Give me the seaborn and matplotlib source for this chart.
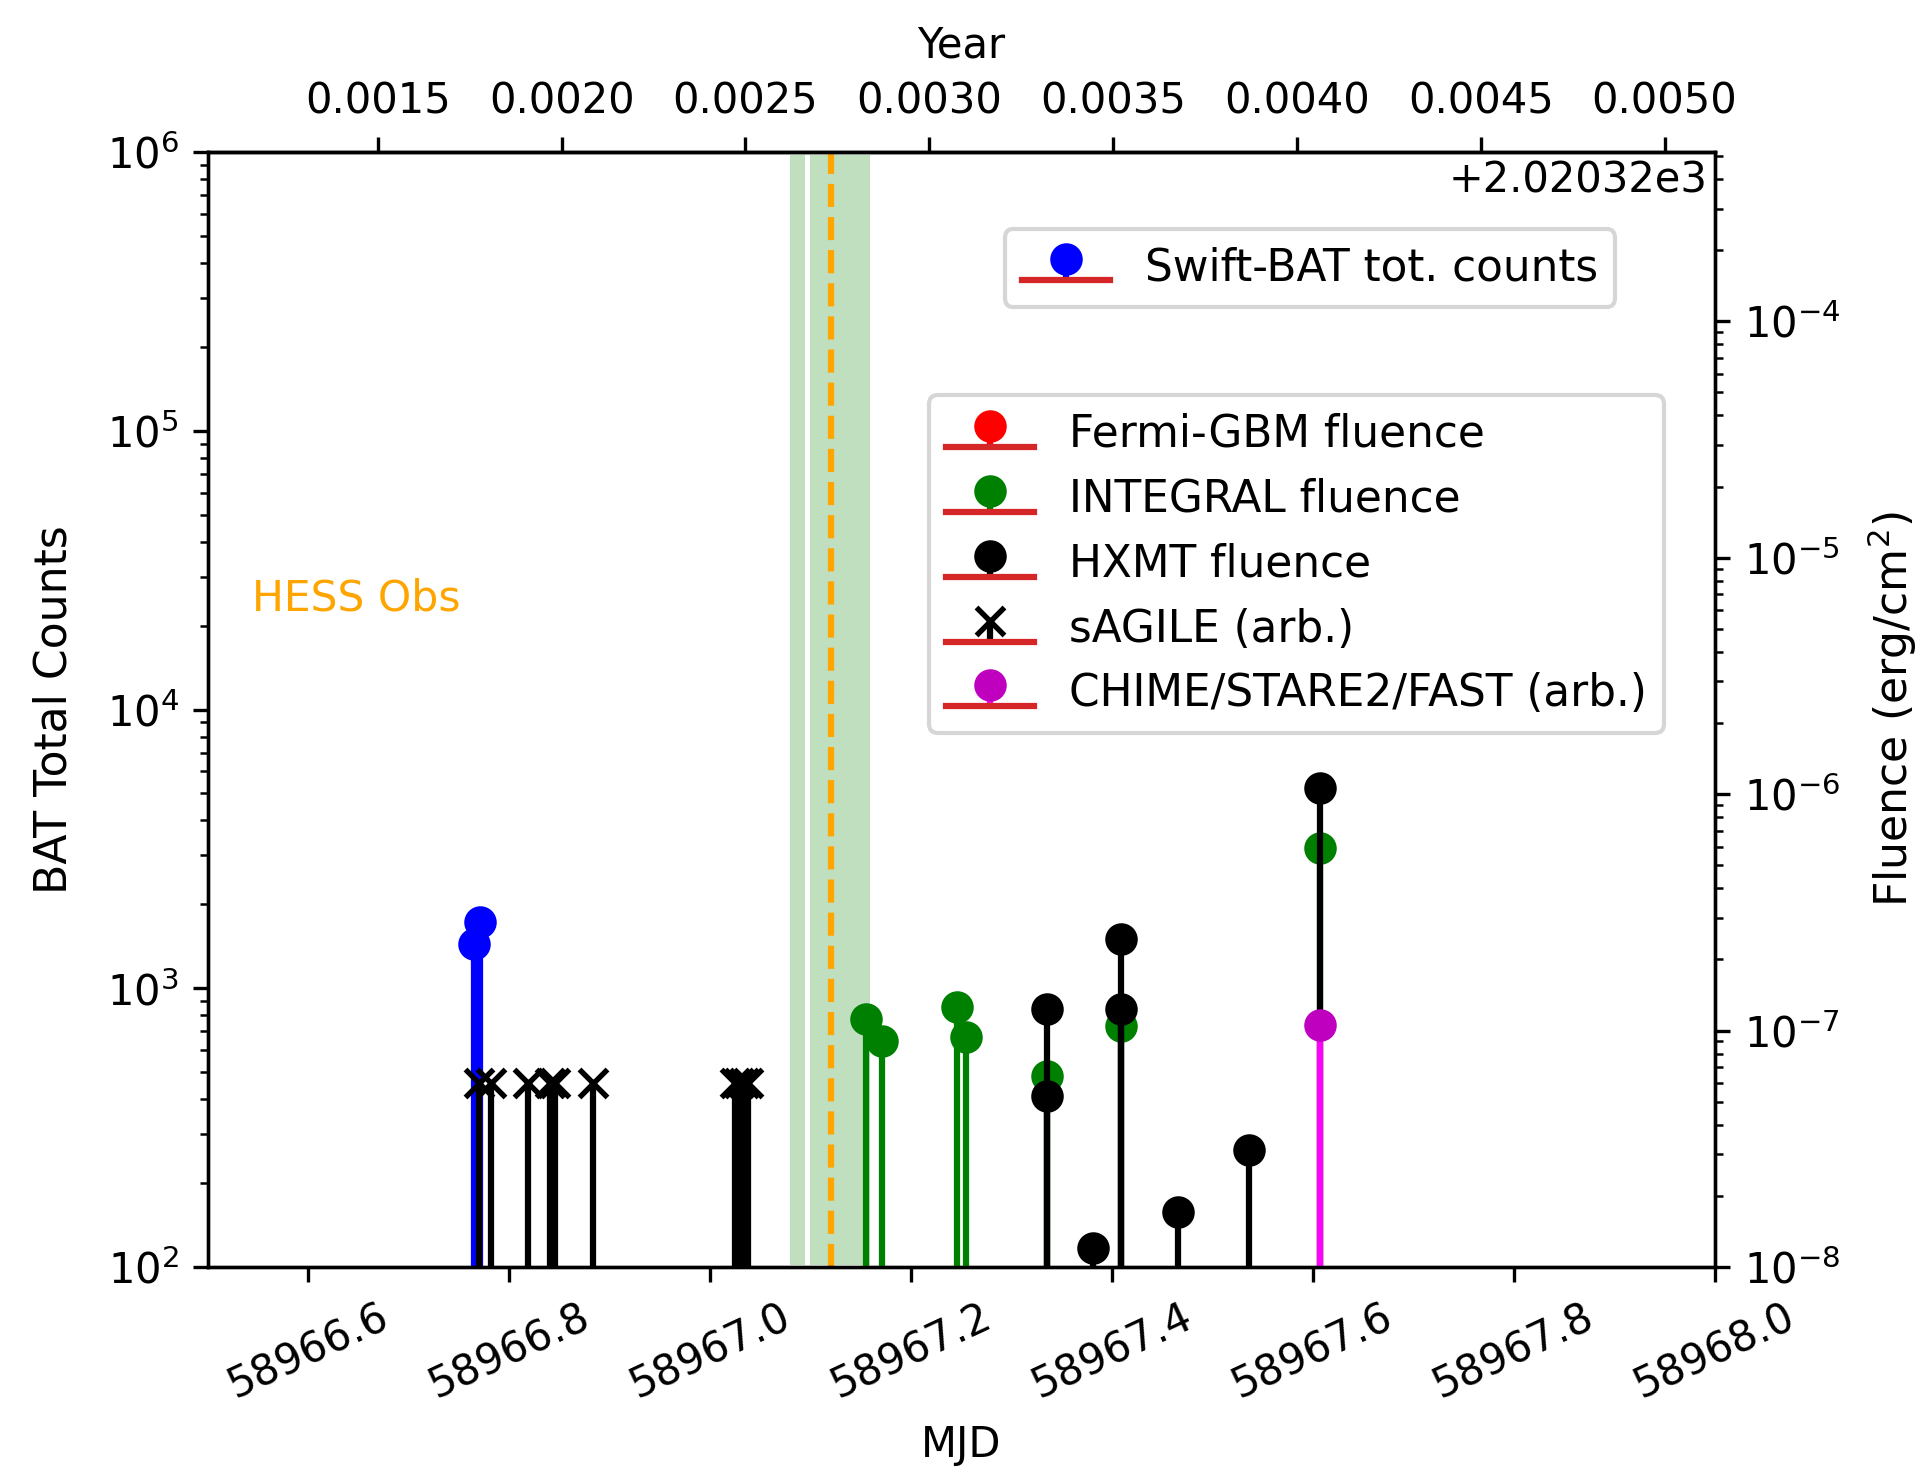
import numpy as np
import matplotlib
matplotlib.use("Agg")
import matplotlib.pyplot as plt
import seaborn as sns
from matplotlib.ticker import MultipleLocator, FuncFormatter

# Swift-BAT total counts (left axis)
bat_mjd = [58966.7651, 58966.7707]
bat_counts = [1436, 1730]

# Burst fluences and arbitrary-level detections (right axis)
fermi_mjd = []
fermi_fluence = []

integral_mjd = [58967.1549, 58967.1705, 58967.2452, 58967.2542,
                58967.3348, 58967.4087, 58967.6068]
integral_fluence = [1.12e-7, 9.0e-8, 1.26e-7, 9.4e-8, 6.4e-8, 1.05e-7, 5.94e-7]

hxmt_mjd = [58967.3348, 58967.3348, 58967.3811, 58967.4087, 58967.4087,
            58967.4652, 58967.5361, 58967.6068]
hxmt_fluence = [1.24e-7, 5.28e-8, 1.2e-8, 2.44e-7, 1.24e-7, 1.71e-8, 3.12e-8, 1.06e-6]

agile_mjd = [58966.770, 58966.782, 58966.819, 58966.840, 58966.845, 58966.883,
             58967.0245, 58967.0285, 58967.0335, 58967.0375]
agile_level = [6.0e-8, 6.0e-8, 6.0e-8, 6.0e-8, 6.0e-8, 6.0e-8,
               6.0e-8, 6.0e-8, 6.0e-8, 6.0e-8]

radio_mjd = [58967.6068]
radio_level = [1.06e-7]

# HESS observation windows and reference time
hess_windows = [(58967.076, 58967.0965), (58967.0965, 58967.1606)]
hess_time = 58967.1198

series_labels = ["Fermi-GBM fluence", "INTEGRAL fluence", "HXMT fluence",
                 "sAGILE (arb.)", "CHIME/STARE2/FAST (arb.)"]

mjd_range = (58966.5, 58968.0)
counts_range = (1e2, 1e6)
fluence_range = (1e-8, 5.2e-4)

sns.set_style("ticks")
plt.rcParams.update({
    "font.family": ["DejaVu Sans"],
    "font.size": 10,
    "axes.edgecolor": "black",
    "axes.labelcolor": "black",
    "text.color": "black",
    "xtick.color": "black",
    "ytick.color": "black",
    "lines.solid_capstyle": "projecting",
    "lines.markersize": 6.5,
    "lines.markeredgewidth": 1.3,
    "legend.fontsize": 10.5,
})


def mjd_to_year(m):
    return 2020.0 + (np.asarray(m, dtype=float) - 58849.0) / 366.0


def year_to_mjd(y):
    return 58849.0 + (np.asarray(y, dtype=float) - 2020.0) * 366.0


def stem(axis, x, y, linefmt, markerfmt, bottom):
    if len(x) == 0:
        x, y = [np.nan], [np.nan]
    return axis.stem(x, y, linefmt=linefmt, markerfmt=markerfmt, bottom=bottom)


fig = plt.figure(figsize=(1917 / 300, 1469 / 300), dpi=300)
ax = fig.add_axes([0.1085, 0.1375, 0.786, 0.759])

# HESS windows
for lo, hi in hess_windows:
    ax.axvspan(lo, hi, facecolor=(0.0, 0.5, 0.0, 0.25), edgecolor="white",
               linewidth=1.2, zorder=0)
ax.axvline(hess_time, color="orange", linestyle="--", linewidth=1.5, zorder=0.5)
ax.text(58966.5435, 2.27e4, "HESS Obs", color="orange", ha="left", va="baseline",
        fontsize=10.2)

bat = stem(ax, bat_mjd, bat_counts, "b-", "bo", 1.0)
ax.set_yscale("log")
ax.set_ylim(*counts_range)
ax.set_xlim(*mjd_range)
ax.set_xlabel("MJD", labelpad=4)
ax.set_ylabel("BAT Total Counts", fontsize=10.6, labelpad=7.5)
ax.xaxis.set_major_locator(MultipleLocator(0.2))
ax.xaxis.set_major_formatter(FuncFormatter(lambda v, p: f"{v:.1f}"))
plt.setp(ax.get_xticklabels(), rotation=25, ha="center")

ax2 = ax.twinx()
ax2.set_yscale("log")
fermi = stem(ax2, fermi_mjd, fermi_fluence, "r-", "ro", 1e-12)
integral = stem(ax2, integral_mjd, integral_fluence, "g-", "go", 1e-12)
hxmt = stem(ax2, hxmt_mjd, hxmt_fluence, "k-", "ko", 1e-12)
agile = stem(ax2, agile_mjd, agile_level, "k-", "kx", 1e-12)
radio = stem(ax2, radio_mjd, radio_level, "magenta", "mo", 1e-12)
ax2.set_ylim(*fluence_range)
ax2.set_xlim(*mjd_range)
ax2.set_ylabel("Fluence (erg/cm$^2$)", fontsize=10.6, labelpad=6)

# Decimal-year axis on top
secax = ax.secondary_xaxis("top", functions=(mjd_to_year, year_to_mjd))
secax.xaxis.set_major_locator(MultipleLocator(0.0005))
secax.xaxis.set_major_formatter(FuncFormatter(lambda v, p: f"{v - 2020.32:.4f}"))
secax.set_xlabel("Year", labelpad=5.5)
ax.text(0.9954, 0.993, "+2.02032e3", transform=ax.transAxes, ha="right", va="top")

ax.legend(handles=[bat], labels=["Swift-BAT tot. counts"], loc="upper right",
          bbox_to_anchor=(0.934, 0.931), borderaxespad=0)
ax2.legend(handles=[fermi, integral, hxmt, agile, radio], labels=series_labels,
           loc="upper left", bbox_to_anchor=(0.4784, 0.7817), borderaxespad=0)

fig.savefig("out.png", dpi=300)
